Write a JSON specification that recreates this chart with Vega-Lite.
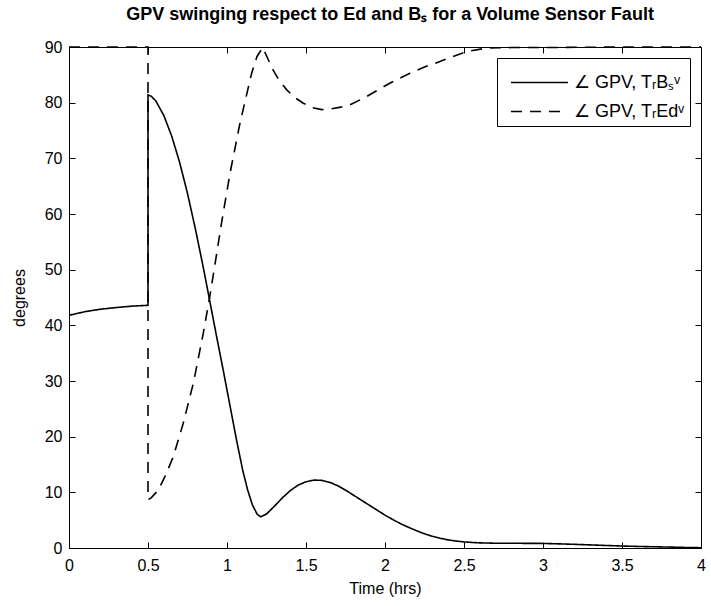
{
  "$schema": "https://vega.github.io/schema/vega-lite/v6.json",
  "width": 632,
  "height": 501,
  "autosize": {"type": "none"},
  "padding": {"left": 69, "top": 47, "right": 10, "bottom": 58},
  "background": "white",
  "title": {
    "text": "GPV swinging respect to Ed and Bₛ for a Volume Sensor Fault",
    "font": "Liberation Sans",
    "fontSize": 18,
    "fontWeight": "bold",
    "color": "black",
    "anchor": "middle",
    "baseline": "alphabetic",
    "offset": 1,
    "dx": 5
  },
  "config": {
    "view": {"stroke": "black", "strokeWidth": 1},
    "axis": {
      "grid": false,
      "domainColor": "black",
      "domainWidth": 1,
      "tickColor": "black",
      "tickSize": -6,
      "labelColor": "black",
      "labelFont": "Liberation Sans",
      "labelFontSize": 16,
      "labelFlush": false,
      "labelOverlap": false,
      "titleFont": "Liberation Sans",
      "titleFontSize": 16,
      "titleFontWeight": "normal",
      "titleColor": "black"
    }
  },
  "data": {
    "values": [
      {"s": "∠ GPV, TᵣBₛᵛ", "i": 1, "t": 0, "v": 41.8},
      {"s": "∠ GPV, TᵣBₛᵛ", "i": 2, "t": 0.1, "v": 42.45},
      {"s": "∠ GPV, TᵣBₛᵛ", "i": 3, "t": 0.2, "v": 42.9},
      {"s": "∠ GPV, TᵣBₛᵛ", "i": 4, "t": 0.3, "v": 43.2},
      {"s": "∠ GPV, TᵣBₛᵛ", "i": 5, "t": 0.4, "v": 43.45},
      {"s": "∠ GPV, TᵣBₛᵛ", "i": 6, "t": 0.5, "v": 43.6},
      {"s": "∠ GPV, TᵣBₛᵛ", "i": 7, "t": 0.5, "v": 81.4},
      {"s": "∠ GPV, TᵣBₛᵛ", "i": 8, "t": 0.52, "v": 81.16},
      {"s": "∠ GPV, TᵣBₛᵛ", "i": 9, "t": 0.55, "v": 80.3},
      {"s": "∠ GPV, TᵣBₛᵛ", "i": 10, "t": 0.6, "v": 77.7},
      {"s": "∠ GPV, TᵣBₛᵛ", "i": 11, "t": 0.65, "v": 74.0},
      {"s": "∠ GPV, TᵣBₛᵛ", "i": 12, "t": 0.7, "v": 69.3},
      {"s": "∠ GPV, TᵣBₛᵛ", "i": 13, "t": 0.75, "v": 63.7},
      {"s": "∠ GPV, TᵣBₛᵛ", "i": 14, "t": 0.8, "v": 57.3},
      {"s": "∠ GPV, TᵣBₛᵛ", "i": 15, "t": 0.85, "v": 50.4},
      {"s": "∠ GPV, TᵣBₛᵛ", "i": 16, "t": 0.89, "v": 44.5},
      {"s": "∠ GPV, TᵣBₛᵛ", "i": 17, "t": 0.93, "v": 38.6},
      {"s": "∠ GPV, TᵣBₛᵛ", "i": 18, "t": 0.977, "v": 31.8},
      {"s": "∠ GPV, TᵣBₛᵛ", "i": 19, "t": 1.02, "v": 25.4},
      {"s": "∠ GPV, TᵣBₛᵛ", "i": 20, "t": 1.061, "v": 19.3},
      {"s": "∠ GPV, TᵣBₛᵛ", "i": 21, "t": 1.1, "v": 13.9},
      {"s": "∠ GPV, TᵣBₛᵛ", "i": 22, "t": 1.13, "v": 10.5},
      {"s": "∠ GPV, TᵣBₛᵛ", "i": 23, "t": 1.16, "v": 7.8},
      {"s": "∠ GPV, TᵣBₛᵛ", "i": 24, "t": 1.19, "v": 6.1},
      {"s": "∠ GPV, TᵣBₛᵛ", "i": 25, "t": 1.213, "v": 5.6},
      {"s": "∠ GPV, TᵣBₛᵛ", "i": 26, "t": 1.25, "v": 6.1},
      {"s": "∠ GPV, TᵣBₛᵛ", "i": 27, "t": 1.3, "v": 7.5},
      {"s": "∠ GPV, TᵣBₛᵛ", "i": 28, "t": 1.35, "v": 9.0},
      {"s": "∠ GPV, TᵣBₛᵛ", "i": 29, "t": 1.4, "v": 10.3},
      {"s": "∠ GPV, TᵣBₛᵛ", "i": 30, "t": 1.45, "v": 11.3},
      {"s": "∠ GPV, TᵣBₛᵛ", "i": 31, "t": 1.5, "v": 11.9},
      {"s": "∠ GPV, TᵣBₛᵛ", "i": 32, "t": 1.55, "v": 12.2},
      {"s": "∠ GPV, TᵣBₛᵛ", "i": 33, "t": 1.6, "v": 12.15},
      {"s": "∠ GPV, TᵣBₛᵛ", "i": 34, "t": 1.65, "v": 11.8},
      {"s": "∠ GPV, TᵣBₛᵛ", "i": 35, "t": 1.7, "v": 11.2},
      {"s": "∠ GPV, TᵣBₛᵛ", "i": 36, "t": 1.75, "v": 10.4},
      {"s": "∠ GPV, TᵣBₛᵛ", "i": 37, "t": 1.8, "v": 9.5},
      {"s": "∠ GPV, TᵣBₛᵛ", "i": 38, "t": 1.85, "v": 8.6},
      {"s": "∠ GPV, TᵣBₛᵛ", "i": 39, "t": 1.9, "v": 7.7},
      {"s": "∠ GPV, TᵣBₛᵛ", "i": 40, "t": 1.95, "v": 6.8},
      {"s": "∠ GPV, TᵣBₛᵛ", "i": 41, "t": 2.0, "v": 5.9},
      {"s": "∠ GPV, TᵣBₛᵛ", "i": 42, "t": 2.05, "v": 5.1},
      {"s": "∠ GPV, TᵣBₛᵛ", "i": 43, "t": 2.1, "v": 4.35},
      {"s": "∠ GPV, TᵣBₛᵛ", "i": 44, "t": 2.15, "v": 3.7},
      {"s": "∠ GPV, TᵣBₛᵛ", "i": 45, "t": 2.2, "v": 3.1},
      {"s": "∠ GPV, TᵣBₛᵛ", "i": 46, "t": 2.25, "v": 2.55},
      {"s": "∠ GPV, TᵣBₛᵛ", "i": 47, "t": 2.3, "v": 2.1},
      {"s": "∠ GPV, TᵣBₛᵛ", "i": 48, "t": 2.35, "v": 1.75},
      {"s": "∠ GPV, TᵣBₛᵛ", "i": 49, "t": 2.4, "v": 1.45},
      {"s": "∠ GPV, TᵣBₛᵛ", "i": 50, "t": 2.45, "v": 1.25},
      {"s": "∠ GPV, TᵣBₛᵛ", "i": 51, "t": 2.5, "v": 1.1},
      {"s": "∠ GPV, TᵣBₛᵛ", "i": 52, "t": 2.55, "v": 1.0},
      {"s": "∠ GPV, TᵣBₛᵛ", "i": 53, "t": 2.6, "v": 0.92},
      {"s": "∠ GPV, TᵣBₛᵛ", "i": 54, "t": 2.73, "v": 0.84},
      {"s": "∠ GPV, TᵣBₛᵛ", "i": 55, "t": 2.87, "v": 0.84},
      {"s": "∠ GPV, TᵣBₛᵛ", "i": 56, "t": 3.0, "v": 0.82},
      {"s": "∠ GPV, TᵣBₛᵛ", "i": 57, "t": 3.13, "v": 0.72},
      {"s": "∠ GPV, TᵣBₛᵛ", "i": 58, "t": 3.26, "v": 0.6},
      {"s": "∠ GPV, TᵣBₛᵛ", "i": 59, "t": 3.4, "v": 0.45},
      {"s": "∠ GPV, TᵣBₛᵛ", "i": 60, "t": 3.51, "v": 0.35},
      {"s": "∠ GPV, TᵣBₛᵛ", "i": 61, "t": 3.65, "v": 0.25},
      {"s": "∠ GPV, TᵣBₛᵛ", "i": 62, "t": 3.78, "v": 0.18},
      {"s": "∠ GPV, TᵣBₛᵛ", "i": 63, "t": 3.9, "v": 0.1},
      {"s": "∠ GPV, TᵣBₛᵛ", "i": 64, "t": 4.0, "v": 0.05},
      {"s": "∠ GPV, TᵣEdᵛ", "i": 101, "t": 0, "v": 90},
      {"s": "∠ GPV, TᵣEdᵛ", "i": 102, "t": 0.5, "v": 90},
      {"s": "∠ GPV, TᵣEdᵛ", "i": 103, "t": 0.5, "v": 8.7},
      {"s": "∠ GPV, TᵣEdᵛ", "i": 104, "t": 0.52, "v": 9.0},
      {"s": "∠ GPV, TᵣEdᵛ", "i": 105, "t": 0.565, "v": 10.4},
      {"s": "∠ GPV, TᵣEdᵛ", "i": 106, "t": 0.61, "v": 13.0},
      {"s": "∠ GPV, TᵣEdᵛ", "i": 107, "t": 0.66, "v": 16.4},
      {"s": "∠ GPV, TᵣEdᵛ", "i": 108, "t": 0.723, "v": 22.4},
      {"s": "∠ GPV, TᵣEdᵛ", "i": 109, "t": 0.787, "v": 29.6},
      {"s": "∠ GPV, TᵣEdᵛ", "i": 110, "t": 0.85, "v": 38.6},
      {"s": "∠ GPV, TᵣEdᵛ", "i": 111, "t": 0.89, "v": 45.0},
      {"s": "∠ GPV, TᵣEdᵛ", "i": 112, "t": 0.913, "v": 49.0},
      {"s": "∠ GPV, TᵣEdᵛ", "i": 113, "t": 0.966, "v": 58.5},
      {"s": "∠ GPV, TᵣEdᵛ", "i": 114, "t": 1.019, "v": 67.3},
      {"s": "∠ GPV, TᵣEdᵛ", "i": 115, "t": 1.082, "v": 76.3},
      {"s": "∠ GPV, TᵣEdᵛ", "i": 116, "t": 1.156, "v": 85.3},
      {"s": "∠ GPV, TᵣEdᵛ", "i": 117, "t": 1.19, "v": 88.3},
      {"s": "∠ GPV, TᵣEdᵛ", "i": 118, "t": 1.226, "v": 89.9},
      {"s": "∠ GPV, TᵣEdᵛ", "i": 119, "t": 1.26, "v": 87.8},
      {"s": "∠ GPV, TᵣEdᵛ", "i": 120, "t": 1.293, "v": 85.8},
      {"s": "∠ GPV, TᵣEdᵛ", "i": 121, "t": 1.33, "v": 84.0},
      {"s": "∠ GPV, TᵣEdᵛ", "i": 122, "t": 1.378, "v": 82.3},
      {"s": "∠ GPV, TᵣEdᵛ", "i": 123, "t": 1.43, "v": 80.9},
      {"s": "∠ GPV, TᵣEdᵛ", "i": 124, "t": 1.483, "v": 79.9},
      {"s": "∠ GPV, TᵣEdᵛ", "i": 125, "t": 1.54, "v": 79.1},
      {"s": "∠ GPV, TᵣEdᵛ", "i": 126, "t": 1.6, "v": 78.75},
      {"s": "∠ GPV, TᵣEdᵛ", "i": 127, "t": 1.66, "v": 78.9},
      {"s": "∠ GPV, TᵣEdᵛ", "i": 128, "t": 1.72, "v": 79.2},
      {"s": "∠ GPV, TᵣEdᵛ", "i": 129, "t": 1.778, "v": 79.6},
      {"s": "∠ GPV, TᵣEdᵛ", "i": 130, "t": 1.884, "v": 81.1},
      {"s": "∠ GPV, TᵣEdᵛ", "i": 131, "t": 2.03, "v": 83.5},
      {"s": "∠ GPV, TᵣEdᵛ", "i": 132, "t": 2.158, "v": 85.3},
      {"s": "∠ GPV, TᵣEdᵛ", "i": 133, "t": 2.25, "v": 86.4},
      {"s": "∠ GPV, TᵣEdᵛ", "i": 134, "t": 2.348, "v": 87.4},
      {"s": "∠ GPV, TᵣEdᵛ", "i": 135, "t": 2.43, "v": 88.3},
      {"s": "∠ GPV, TᵣEdᵛ", "i": 136, "t": 2.517, "v": 89.2},
      {"s": "∠ GPV, TᵣEdᵛ", "i": 137, "t": 2.643, "v": 89.8},
      {"s": "∠ GPV, TᵣEdᵛ", "i": 138, "t": 2.8, "v": 89.9},
      {"s": "∠ GPV, TᵣEdᵛ", "i": 139, "t": 3.0, "v": 89.9},
      {"s": "∠ GPV, TᵣEdᵛ", "i": 140, "t": 3.5, "v": 90},
      {"s": "∠ GPV, TᵣEdᵛ", "i": 141, "t": 4.0, "v": 90}
    ]
  },
  "layer": [
    {
      "mark": {"type": "line", "color": "black", "strokeWidth": 1.6},
      "encoding": {
        "x": {
          "field": "t", "type": "quantitative",
          "scale": {"domain": [0, 4], "nice": false, "zero": false},
          "axis": {"orient": "bottom", "values": [0, 0.5, 1, 1.5, 2, 2.5, 3, 3.5, 4], "format": "~g", "title": "Time (hrs)", "labelPadding": 15, "titlePadding": 7}
        },
        "y": {
          "field": "v", "type": "quantitative",
          "scale": {"domain": [0, 90], "nice": false},
          "axis": {"orient": "left", "values": [0, 10, 20, 30, 40, 50, 60, 70, 80, 90], "title": "degrees", "labelPadding": 13, "titlePadding": 17}
        },
        "strokeDash": {
          "field": "s", "type": "nominal",
          "scale": {"domain": ["∠ GPV, TᵣBₛᵛ", "∠ GPV, TᵣEdᵛ"], "range": [[1, 0], [11, 8]]},
          "legend": {
            "title": null,
            "orient": "top-right",
            "offset": 11,
            "strokeColor": "black",
            "fillColor": "white",
            "padding": 5,
            "rowPadding": 0,
            "symbolType": "M-0.57,0H2.51",
            "symbolSize": 1369,
            "symbolStrokeWidth": 1.6,
            "symbolStrokeColor": "black",
            "labelFont": "Liberation Sans",
            "labelFontSize": 18,
            "labelColor": "black",
            "labelOffset": 33,
            "labelLimit": 300,
            "labelExpr": "datum.label + '\u00a0\u00a0\u00a0'"
          }
        },
        "order": {"field": "i", "type": "quantitative"}
      }
    },
    {
      "mark": {"type": "line", "opacity": 0},
      "encoding": {
        "x": {"field": "t", "type": "quantitative", "axis": {"orient": "top", "values": [0, 0.5, 1, 1.5, 2, 2.5, 3, 3.5, 4], "labels": false, "title": null}},
        "y": {"field": "v", "type": "quantitative", "axis": {"orient": "right", "values": [0, 10, 20, 30, 40, 50, 60, 70, 80, 90], "labels": false, "title": null}},
        "detail": {"field": "s"},
        "order": {"field": "i", "type": "quantitative"}
      }
    }
  ],
  "resolve": {"axis": {"x": "independent", "y": "independent"}}
}
